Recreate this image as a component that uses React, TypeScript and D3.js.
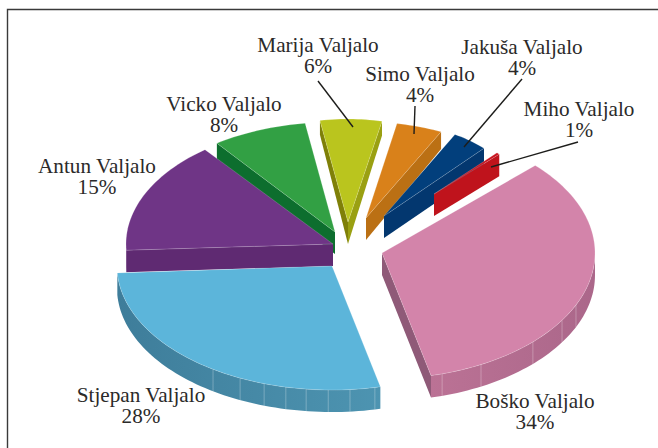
import React from "react";
import * as d3 from "d3";

const names = ["Boško Valjalo", "Stjepan Valjalo", "Antun Valjalo", "Vicko Valjalo", "Marija Valjalo", "Simo Valjalo", "Jakuša Valjalo", "Miho Valjalo"];
const percents = [34, 28, 15, 8, 6, 4, 4, 1];
const topColors = ["#d384aa", "#5cb5da", "#6f3586", "#32a044", "#bac51e", "#d9811a", "#023f7c", "#c8141f"];
const wallColors = ["#b87092", "#4790ae", "#5f2a72", "#0d6e2e", "#9aa012", "#bb7014", "#03376f", "#bf131c"];
const cutColorsStart = ["#8f5a78", "#3f7f9e", "#5f2a72", "#0d6e2e", "#7f8008", "#b87014", "#03376f", "#bf131c"];
const cutColorsEnd = ["#8f5a78", "#3f7f9e", "#5f2a72", "#0d6e2e", "#9aa012", "#bb7014", "#03376f", "#bf131c"];

// per-slice projection of the exploded wedges
const apexX = [382, 332, 333, 335, 348, 366, 384, 434];
const apexY = [253, 266, 244, 232, 222, 218, 216, 194];
const radiusX = [213, 215, 207, 200, 165, 170, 145, 91];
const radiusY = [126, 124, 120, 110, 103, 96, 93.5, 57];
const nudgeStart = [0, -1.4, -2.2, 0.6, -1.8, -3.1, 1.3, 1.4];
const nudgeEnd = [-1.7, -2.4, -1.4, -0.6, -1.7, -1.8, 1.2, -0.2];
const drawOrder = [3, 2, 4, 5, 6, 7, 1, 0];

// facet seams on the curved walls, degrees clockwise from the top
const seamsBosko = [163.6, 152.3, 134.9, 122.3, 114.4];
const seamsStjepan = [213.6, 205.3, 198.4, 192.4, 186.9, 181, 175.2, 168.5];

const labelX = [535, 141, 97, 224, 318, 420, 522, 579];
const labelY = [408, 402, 173, 111, 52, 81, 54, 116];
const leaderFrom: ([number, number] | null)[] = [null, null, null, null, [318, 81], [415, 106], [522, 79], [578, 142]];
const leaderTo: ([number, number] | null)[] = [null, null, null, null, [353, 127], [414, 134], [464, 147], [491, 167]];

const depth = d3.scaleLinear().domain([120, 150]).range([14, 22]).clamp(true);
const rad = (d: number) => (d * Math.PI) / 180;
const line = d3.line<[number, number]>().x((p) => p[0]).y((p) => p[1]);

const pie = d3.pie<number>().sort(null).startAngle(rad(46)).endAngle(rad(406));
const arcs = pie(percents);

function project(i: number, deg: number): [number, number] {
  const a = rad(deg);
  return [apexX[i] + radiusX[i] * Math.sin(a), apexY[i] - radiusY[i] * Math.cos(a)];
}
const down = (p: [number, number]): [number, number] => [p[0], p[1] + depth(p[1])];
function sweep(i: number, s: number, e: number): [number, number][] {
  const n = Math.max(2, Math.ceil(Math.abs(e - s) / 1.5));
  return d3.range(n + 1).map((k) => project(i, s + ((e - s) * k) / n));
}

export default function App() {
  return (
    <svg width={658} height={448} style={{ position: "absolute", left: 0, top: 0, background: "#fff" }}>
      <defs>
        <linearGradient id="wall0" x1="0" x2="1" y1="0" y2="0">
          <stop offset="0" stopColor="#bb7295" />
          <stop offset="1" stopColor="#ab678a" />
        </linearGradient>
        <linearGradient id="wall1" x1="0" x2="1" y1="0" y2="0">
          <stop offset="0" stopColor="#3e7d9a" />
          <stop offset="1" stopColor="#4d94b1" />
        </linearGradient>
      </defs>
      <path d="M7.5,448V9.5H658" fill="none" stroke="#3a3a3a" strokeWidth={1.4} />
      {drawOrder.map((i) => {
        const s = (arcs[i].startAngle * 180) / Math.PI + nudgeStart[i];
        const e = (arcs[i].endAngle * 180) / Math.PI + nudgeEnd[i];
        const apex: [number, number] = [apexX[i], apexY[i]];
        const ps = project(i, s);
        const pe = project(i, e);
        const top = [apex, ...sweep(i, s, e)];
        const apexDown: [number, number] = [apex[0], apex[1] + 22];
        const ws = Math.max(s, 90);
        const we = Math.min(e, 270);
        const rim = we > ws ? sweep(i, ws, we) : null;
        const seams = i === 0 ? seamsBosko : i === 1 ? seamsStjepan : [];
        return (
          <g key={names[i]}>
            {ps[0] < apex[0] && (
              <path d={line([apex, ps, down(ps), apexDown])! + "Z"} fill={cutColorsStart[i]} />
            )}
            {pe[0] > apex[0] && (
              <path d={line([apex, pe, down(pe), apexDown])! + "Z"} fill={cutColorsEnd[i]} />
            )}
            {rim && (
              <path
                d={line([...rim, ...rim.map(down).reverse()])! + "Z"}
                fill={i < 2 ? `url(#wall${i})` : wallColors[i]}
              />
            )}
            {seams.map((deg) => {
              const p = project(i, deg);
              return <path key={deg} d={line([p, down(p)])!} stroke="#ffffff" strokeOpacity={0.35} strokeWidth={0.8} fill="none" />;
            })}
            <path d={line(top)! + "Z"} fill={topColors[i]} stroke="#ffffff" strokeOpacity={0.3} strokeWidth={0.6} />
          </g>
        );
      })}
      {names.map((n, i) => {
        const from = leaderFrom[i];
        const to = leaderTo[i];
        return from && to ? (
          <path key={n} d={line([from, to])!} stroke="#1d1d1b" strokeWidth={1.4} fill="none" />
        ) : null;
      })}
      <g fontFamily="'Liberation Serif'" fontSize={21.2} fill="#2b2a29" textAnchor="middle">
        {names.map((n, i) => (
          <text key={n} x={labelX[i]} y={labelY[i]}>
            <tspan x={labelX[i]}>{n}</tspan>
            <tspan x={labelX[i]} dy={21}>{percents[i]}%</tspan>
          </text>
        ))}
      </g>
    </svg>
  );
}
